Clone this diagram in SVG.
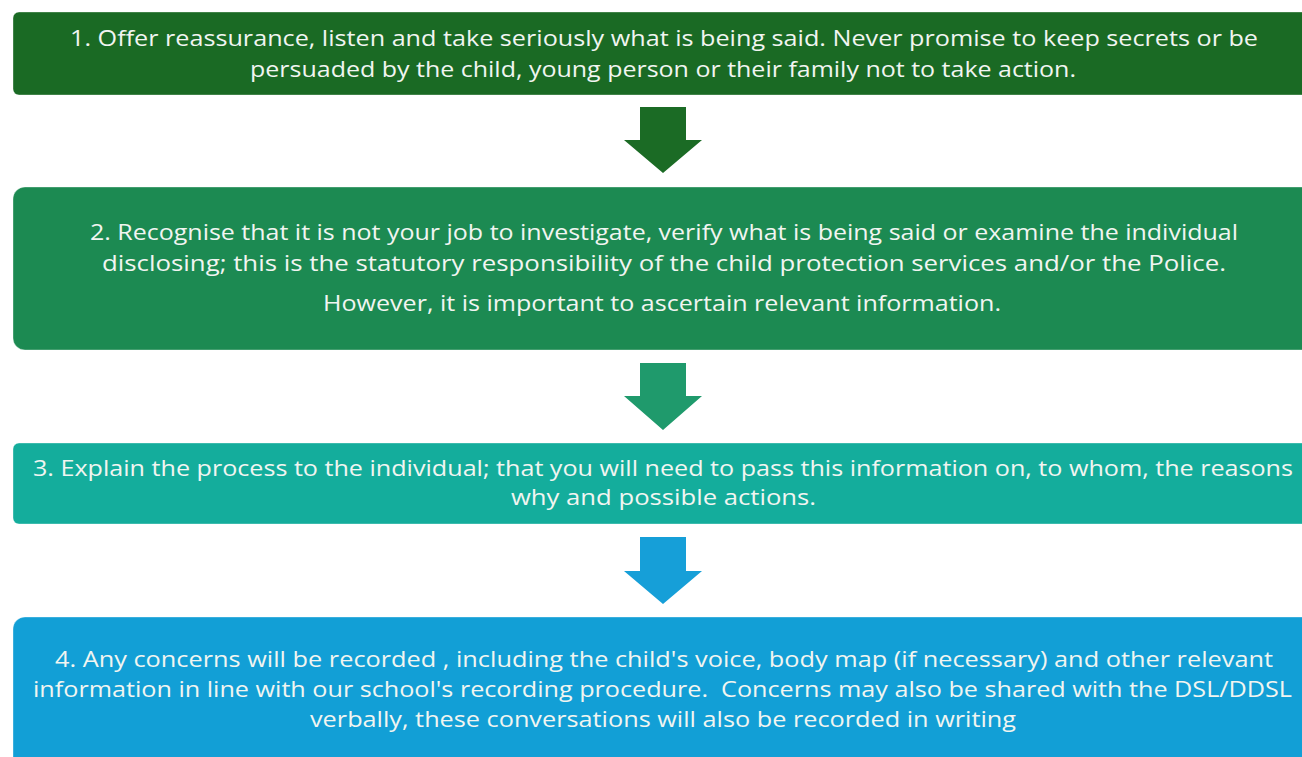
<svg xmlns="http://www.w3.org/2000/svg" width="1302" height="757" viewBox="0 0 1302 757">
  <style>
    .t { font-family: "Open Sans", "Liberation Sans", Arial, sans-serif; font-size: 21.5px; font-weight: 500; fill: #f1f5f1; text-anchor: middle; }
    .box { stroke: #ffffff; stroke-opacity: 0.35; stroke-width: 1; }
  </style>
  <rect width="1302" height="757" fill="#ffffff"/>
  <g id="step1">
    <rect class="box" x="13" y="12" width="1310" height="83" rx="6" fill="#1a6a24"/>
    <text class="t" x="664" y="46" textLength="1188" lengthAdjust="spacingAndGlyphs">1. Offer reassurance, listen and take seriously what is being said. Never promise to keep secrets or be</text>
    <text class="t" x="663" y="77" textLength="826" lengthAdjust="spacingAndGlyphs">persuaded by the child, young person or their family not to take action.</text>
  </g>
  <g id="step2">
    <rect class="box" x="13" y="187" width="1310" height="163" rx="12" fill="#1c8a52"/>
    <text class="t" x="664" y="240" textLength="1148" lengthAdjust="spacingAndGlyphs">2. Recognise that it is not your job to investigate, verify what is being said or examine the individual</text>
    <text class="t" x="664" y="271" textLength="1124" lengthAdjust="spacingAndGlyphs">disclosing; this is the statutory responsibility of the child protection services and/or the Police.</text>
    <text class="t" x="662" y="311" textLength="678" lengthAdjust="spacingAndGlyphs">However, it is important to ascertain relevant information.</text>
  </g>
  <g id="step3">
    <rect class="box" x="13" y="443" width="1310" height="81" rx="6" fill="#14ad9c"/>
    <text class="t" x="663" y="476" textLength="1260" lengthAdjust="spacingAndGlyphs">3. Explain the process to the individual; that you will need to pass this information on, to whom, the reasons</text>
    <text class="t" x="663.5" y="505" textLength="305" lengthAdjust="spacingAndGlyphs">why and possible actions.</text>
  </g>
  <g id="step4">
    <rect class="box" x="13" y="617" width="1310" height="160" rx="12" fill="#129fd6"/>
    <text class="t" x="664" y="667" textLength="1218" lengthAdjust="spacingAndGlyphs">4. Any concerns will be recorded , including the child's voice, body map (if necessary) and other relevant</text>
    <text class="t" x="662.5" y="697" textLength="1259" lengthAdjust="spacingAndGlyphs" xml:space="preserve">information in line with our school's recording procedure.  Concerns may also be shared with the DSL/DDSL</text>
    <text class="t" x="663" y="727" textLength="706" lengthAdjust="spacingAndGlyphs">verbally, these conversations will also be recorded in writing</text>
  </g>
  <g id="connectors">
    <polygon points="640,107 686,107 686,140 702,140 663,173 624,140 640,140" fill="#1b6b25"/>
    <polygon points="640,363 686,363 686,396 702,396 663,430 624,396 640,396" fill="#1f9a6c"/>
    <polygon points="640,537 686,537 686,571 702,571 663,604 624,571 640,571" fill="#169fd8"/>
  </g>
</svg>
